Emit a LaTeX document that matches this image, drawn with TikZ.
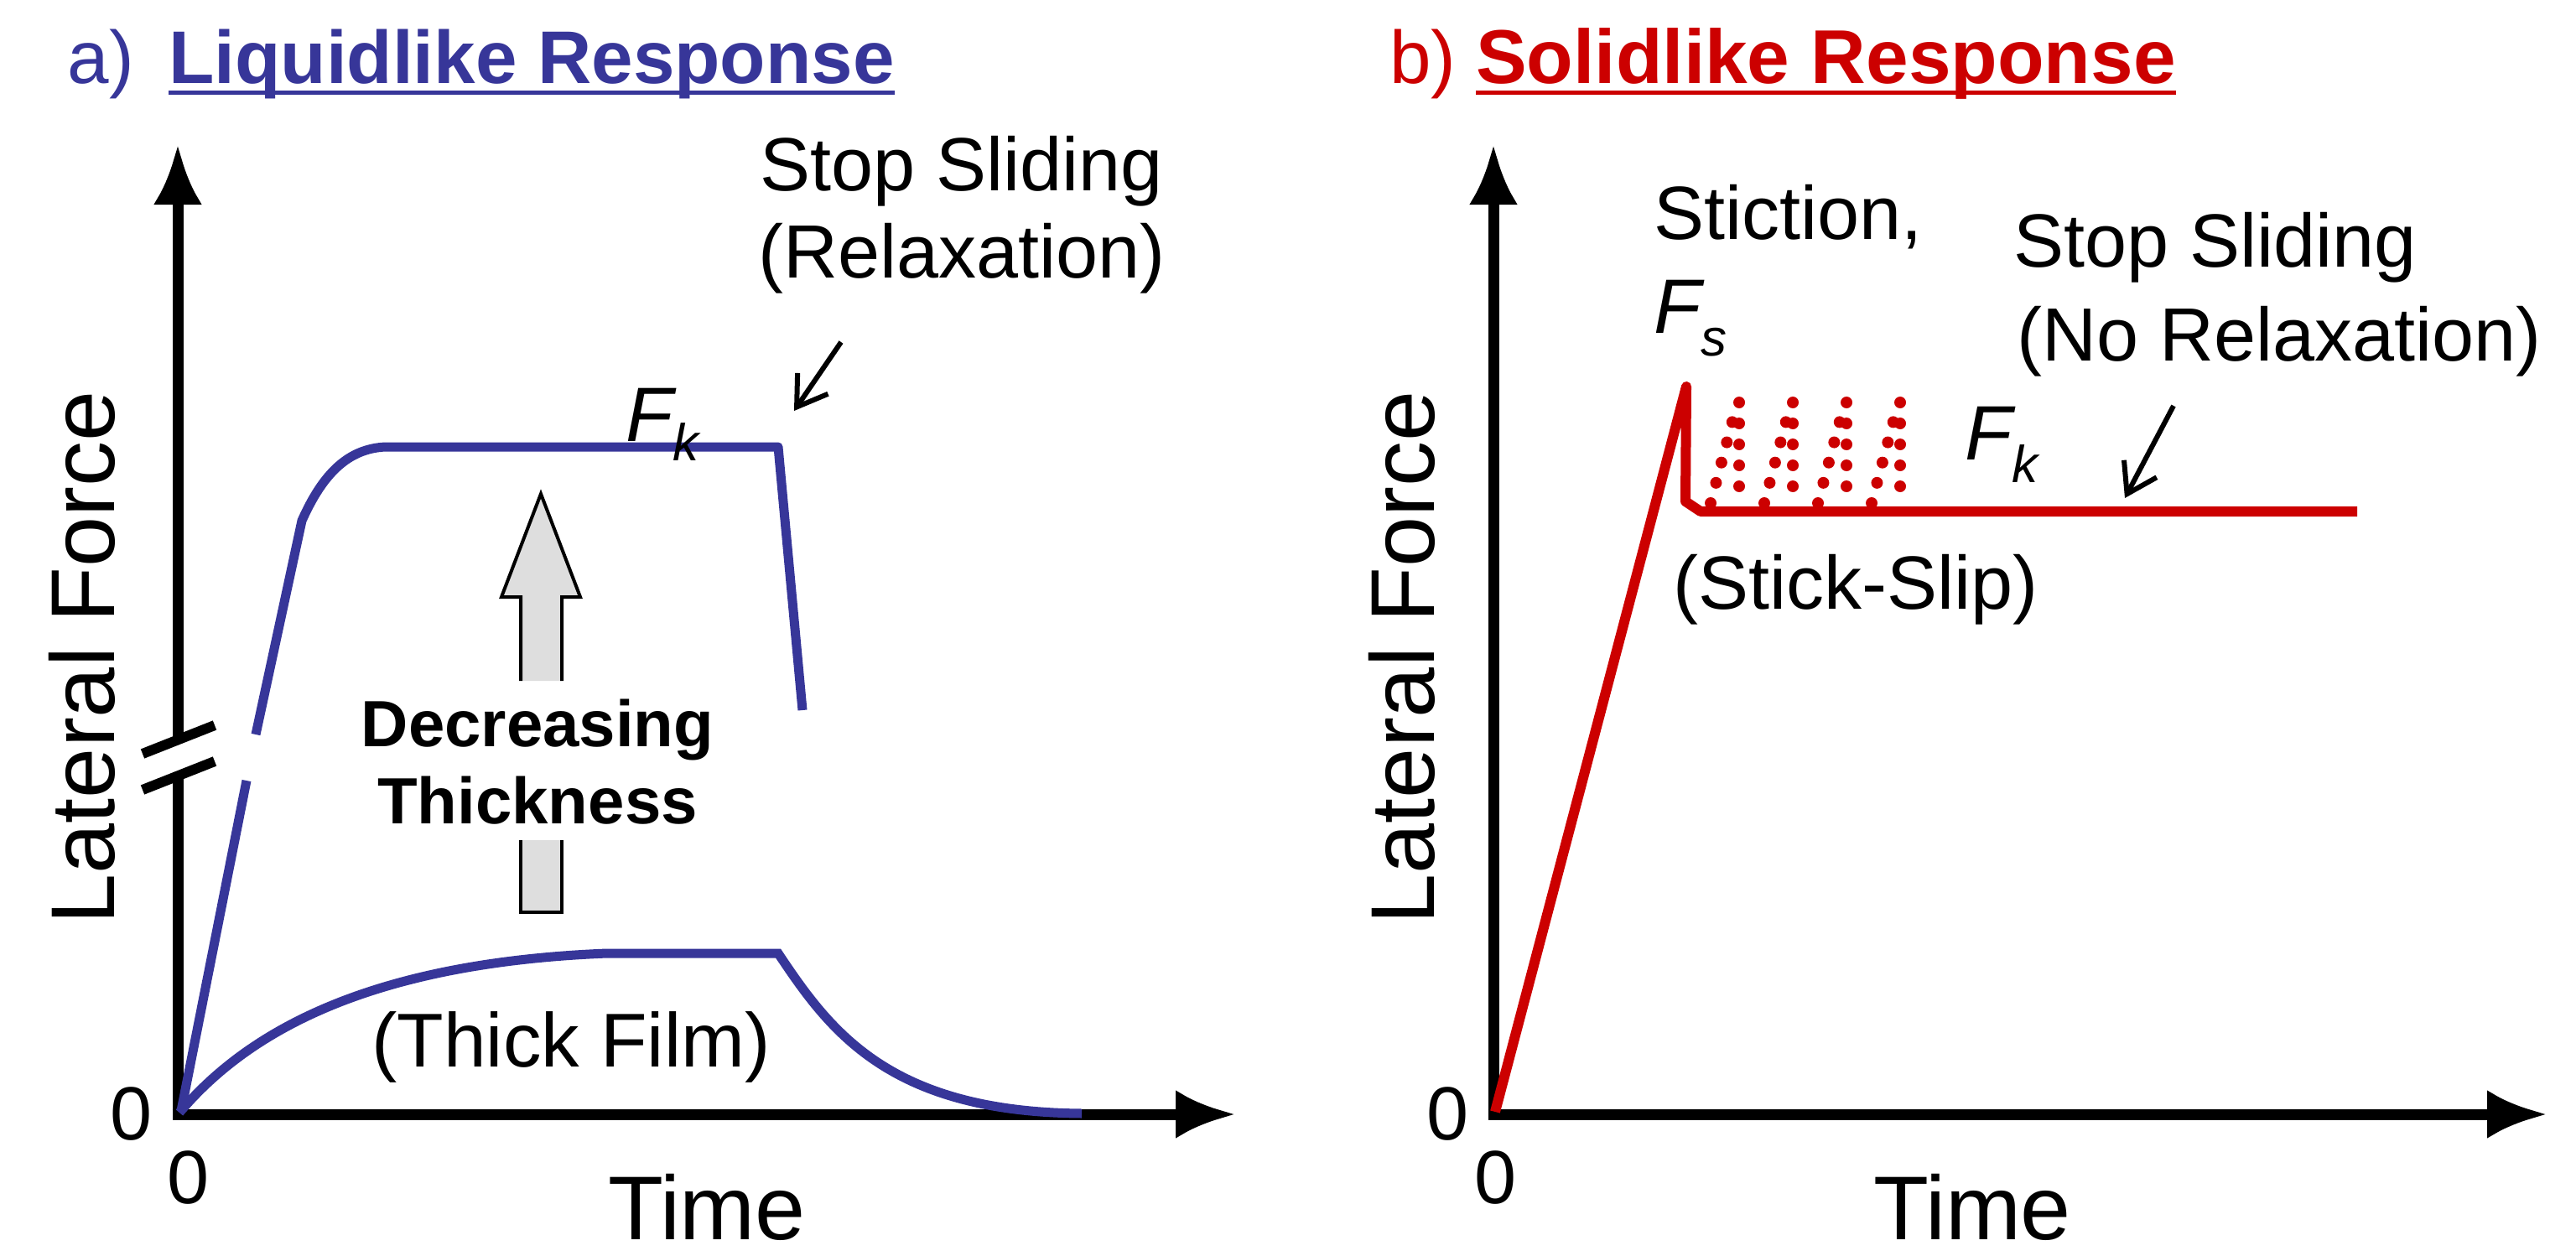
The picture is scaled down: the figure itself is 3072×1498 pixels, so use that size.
\documentclass[tikz,border=0pt]{standalone}
\usepackage{fontspec}
\setmainfont{Liberation Sans}
\usetikzlibrary{arrows.meta}
\definecolor{lblue}{HTML}{373699}
\definecolor{sred}{HTML}{CC0000}
\begin{document}
\begin{tikzpicture}[x=1pt,y=-1pt,
  axis/.style={line width=13pt,-{Latex[length=72pt,width=58pt]}},
  big/.style={font=\fontsize{108}{120}\selectfont},
  mid/.style={font=\fontsize{90}{104}\selectfont},
  ital/.style={font=\fontsize{92}{104}\selectfont\itshape},
  ttl/.style={font=\fontsize{89}{100}\selectfont},
  curveb/.style={lblue,line width=11pt},
  curver/.style={sred,line width=12pt,line join=round},
  small/.style={line width=6pt,-{Straight Barb[length=34pt,width=44pt,line width=6pt]}},
  dots/.style={sred,line width=14pt,line cap=round,dash pattern=on 0pt off 25pt}]
\useasboundingbox (0,0) rectangle (3072,1498);
% ---------- left panel
\coordinate (o1) at (212,1329);
\coordinate (y1) at (212,172);
\coordinate (x1) at (1474,1329);
\draw[axis] (o1) -- (y1);
\draw[axis] ([xshift=-6.5pt]o1) -- (x1);
\fill[white] (150,885) rectangle (270,922);
\draw[line width=12pt] (170,899) -- (256,865);
\draw[line width=12pt] (170,942) -- (256,908);
\node[anchor=base east,lblue,ttl,inner xsep=0pt] (ta) at (160,100) {a)};
\node[anchor=base west,lblue,ttl,font=\fontsize{89}{100}\selectfont\bfseries,inner xsep=0pt] (tat) at (201,100) {Liquidlike Response};
\draw[lblue,line width=5pt] ([yshift=-11pt]tat.base west) -- ([yshift=-11pt]tat.base east);
\node[big,rotate=90] (lf1) at (98,784) {Lateral Force};
\node[big] (time1) at (843,1440) {Time};
\node[mid,anchor=east] (z1) at (185,1329) {0};
\node[mid] (zx1) at (225,1405) {0};
% curves
\draw[curveb] (216,1325) -- (294,931);
\draw[curveb,line join=round] (305,876) -- (360,621) .. controls (385,565) and (415,535) .. (460,533) -- (928,533) -- (957,847);
\draw[curveb] (214,1327) .. controls (300,1225) and (450,1148) .. (724,1137) -- (928,1137) .. controls (990,1230) and (1060,1326) .. (1290,1328);
% block arrow
\draw[line width=4pt,fill=black!13] (621,812) -- (621,712) -- (598,712) -- (645,589) -- (692,712) -- (670,712) -- (670,812);
\draw[line width=4pt,fill=black!13] (621,1002) -- (621,1088) -- (670,1088) -- (670,1002);
\node[font=\fontsize{78}{92}\selectfont\bfseries,align=center] (dt) at (641,909) {Decreasing\\Thickness};
\node[font=\fontsize{91}{104}\selectfont] (tf) at (681,1249) {(Thick Film)};
\node[ital] (fk1) at (790,506) {F\raisebox{-0.25em}{\fontsize{62}{70}\selectfont k}};
\node[mid,align=center] (ss1) at (1147,256) {Stop Sliding\\(Relaxation)};
\coordinate (a1s) at (1003,408);
\coordinate (a1e) at (947,490);
\draw[small] (a1s) -- (a1e);
% ---------- right panel
\coordinate (o2) at (1781,1329);
\coordinate (y2) at (1781,172);
\coordinate (x2) at (3038,1329);
\draw[axis] (o2) -- (y2);
\draw[axis] ([xshift=-6.5pt]o2) -- (x2);
\node[anchor=base west,sred,ttl,inner xsep=0pt] (tb) at (1657,100) {b)};
\node[anchor=base west,sred,font=\fontsize{91}{100}\selectfont\bfseries,inner xsep=0pt] (tbt) at (1760,100) {Solidlike Response};
\draw[sred,line width=5pt] ([yshift=-11pt]tbt.base west) -- ([yshift=-11pt]tbt.base east);
\node[big,rotate=90] (lf2) at (1672,784) {Lateral Force};
\node[big] (time2) at (2352,1440) {Time};
\node[mid,anchor=east] (z2) at (1755,1329) {0};
\node[mid] (zx2) at (1784,1405) {0};
\draw[curver] (1783,1326) -- (2011,461) -- (2010,598) -- (2028,610) -- (2811,610);
\foreach \o in {0,64,128,192}{
  \draw[dots] (2040+\o,600) -- (2072+\o,480);
  \draw[dots] (2074+\o,480) -- (2074+\o,600);
}
\node[mid,anchor=base west,inner xsep=0pt] (st) at (1972,285) {Stiction,};
\node[ital,anchor=base west,inner xsep=0pt] (fs) at (1972,397) {F\raisebox{-0.3em}{\fontsize{62}{70}\selectfont s}};
\node[ital,anchor=base west,inner xsep=0pt] (fk2) at (2343,548) {F\raisebox{-0.3em}{\fontsize{62}{70}\selectfont k}};
\node[mid,anchor=base west,inner xsep=0pt] (ss2a) at (2401,318) {Stop Sliding};
\node[mid,anchor=base east,inner xsep=0pt] (ss2b) at (3031,430) {(No Relaxation)};
\coordinate (a2s) at (2592,484);
\coordinate (a2e) at (2534,594);
\draw[small] (a2s) -- (a2e);
\node[mid,anchor=base west,inner xsep=0pt] (sl) at (1995,726) {(Stick-Slip)};
\end{tikzpicture}
\end{document}
